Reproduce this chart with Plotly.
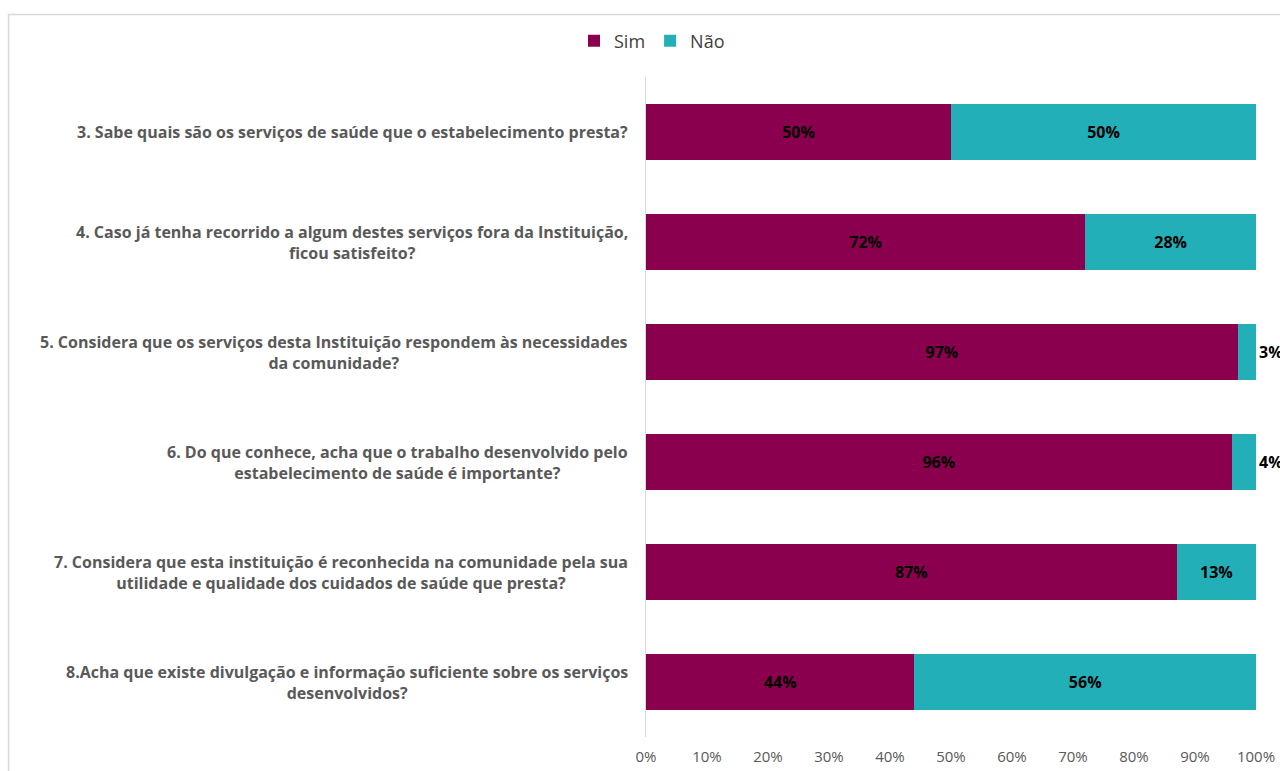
import plotly.graph_objects as go

questions = [
    "3. Sabe quais são os serviços de saúde que o estabelecimento presta?",
    "4. Caso já tenha recorrido a algum destes serviços fora da Instituição,<br>ficou satisfeito?",
    "5. Considera que os serviços desta Instituição respondem às necessidades<br>da comunidade?",
    "6. Do que conhece, acha que o trabalho desenvolvido pelo<br>estabelecimento de saúde é importante?",
    "7. Considera que esta instituição é reconhecida na comunidade pela sua<br>utilidade e qualidade dos cuidados de saúde que presta?",
    "8.Acha que existe divulgação e informação suficiente sobre os serviços<br>desenvolvidos?",
]
cats = ["q3", "q4", "q5", "q6", "q7", "q8"]
sim = [50, 72, 97, 96, 87, 44]
nao = [50, 28, 3, 4, 13, 56]
ticks = [0, 10, 20, 30, 40, 50, 60, 70, 80, 90, 100]
tick_labels = [f"{t}%" for t in ticks]

W, H = 1280, 771
L, R, T, B = 646, 24, 77, 34
pw = W - L - R
ph = H - T - B

FONT = "Open Sans"
SIM_C = "#8B004E"
NAO_C = "#23AFB7"

fig = go.Figure()
fig.add_trace(go.Bar(
    y=cats, x=sim, name="Sim", orientation="h",
    marker=dict(color=SIM_C, line=dict(width=0)),
    text=[f"{v}%" for v in sim], textposition="inside", insidetextanchor="middle",
    textfont=dict(family=FONT, size=16, color="black", weight="bold"),
    cliponaxis=False,
))
fig.add_trace(go.Bar(
    y=cats, x=nao, name="Não", orientation="h",
    marker=dict(color=NAO_C, line=dict(width=0)),
    text=[f"{v}%" for v in nao],
    textposition=["outside" if v < 8 else "inside" for v in nao],
    insidetextanchor="middle",
    textfont=dict(family=FONT, size=16, color="black", weight="bold"),
    cliponaxis=False,
))

for c, q in zip(cats, questions):
    fig.add_annotation(
        x=0, xref="paper", y=c, yref="y", text=q, showarrow=False,
        xanchor="right", yanchor="middle", align="center", xshift=-16,
        font=dict(family=FONT, size=16, color="#595959", weight="bold"),
    )

# chart border
fig.add_shape(
    type="rect", xref="paper", yref="paper",
    x0=(8.5 - L) / pw, x1=(W + 20 - L) / pw,
    y0=-(B + 20) / ph, y1=1 + (T - 14.5) / ph,
    line=dict(color="#d9d9d9", width=1.5), fillcolor="rgba(0,0,0,0)", layer="below",
)

fig.update_layout(
    width=W, height=H,
    margin=dict(l=L, r=R, t=T, b=B, pad=0, autoexpand=False),
    barmode="stack", bargap=0.49,
    plot_bgcolor="white", paper_bgcolor="white",
    font=dict(family=FONT, color="#595959"),
    legend=dict(
        orientation="h", x=(652 - L) / pw, xanchor="center", y=1 + (T - 41) / ph, yanchor="middle",
        font=dict(family=FONT, size=18, color="#404040"),
        itemwidth=30, traceorder="normal",
    ),
    xaxis=dict(
        range=[0, 100], tickvals=ticks, ticktext=tick_labels,
        showgrid=False, zeroline=False, showline=False,
        tickfont=dict(family=FONT, size=15, color="#595959"),
        ticklabelstandoff=9, fixedrange=True, automargin=False,
    ),
    yaxis=dict(
        categoryorder="array", categoryarray=cats, autorange="reversed",
        showticklabels=False, showgrid=False, zeroline=False,
        showline=True, linecolor="#d9d9d9", linewidth=1, automargin=False,
    ),
)

fig.write_html("out.html")
